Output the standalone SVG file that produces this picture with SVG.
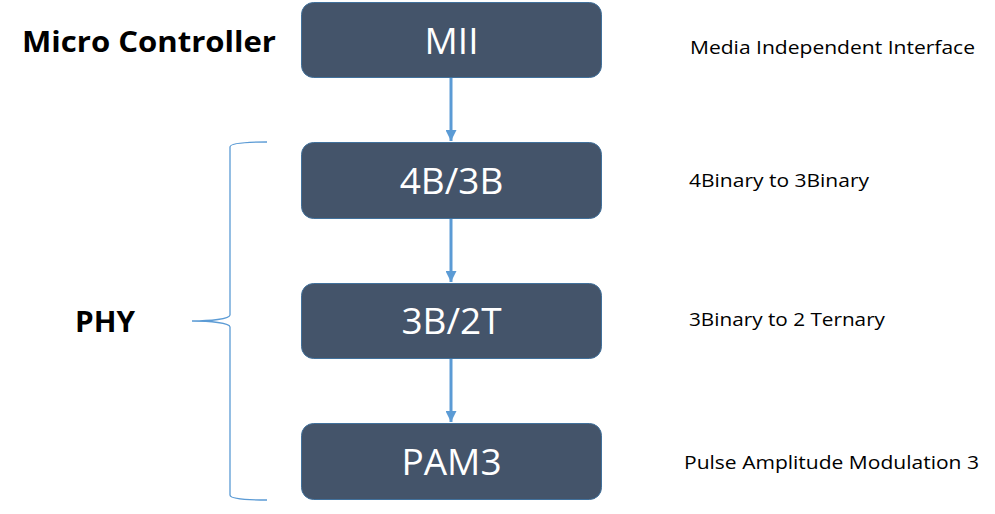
<svg xmlns="http://www.w3.org/2000/svg" width="995" height="514" viewBox="0 0 995 514">
<style>
.box{fill:#44546a;stroke:#41719c;stroke-width:1}
.btxt{font-family:"Open Sans","Noto Sans",sans-serif;font-size:37px;fill:#ffffff;text-anchor:middle}
.lbl{font-family:"Open Sans","Noto Sans",sans-serif;font-size:18px;fill:#000000}
.head{font-family:"Open Sans","Noto Sans",sans-serif;font-size:29px;font-weight:bold;fill:#000000}
.conn{stroke:#5b9bd5;stroke-width:3;fill:none}
.brace{stroke:#5b9bd5;stroke-width:1.3;fill:none}
</style>
<defs>
<marker id="arr" markerUnits="userSpaceOnUse" markerWidth="12" markerHeight="11" refX="11" refY="5.5" orient="auto">
<path d="M0,0 L11,5.5 L0,11 z" fill="#5b9bd5"/>
</marker>
</defs>
<rect width="995" height="514" fill="#ffffff"/>
<g id="micro-controller-label"><text class="head" x="22" y="52" textLength="254" lengthAdjust="spacingAndGlyphs">Micro Controller</text></g>
<g id="phy-label"><text class="head" x="75" y="332" textLength="60" lengthAdjust="spacingAndGlyphs">PHY</text></g>
<g id="node-mii"><rect class="box" x="301.5" y="2.5" width="300" height="75" rx="12"/><text class="btxt" x="451.5" y="54">MII</text></g>
<g id="node-4b3b"><rect class="box" x="301.5" y="142.5" width="300" height="76" rx="12"/><text class="btxt" x="451.5" y="194">4B/3B</text></g>
<g id="node-3b2t"><rect class="box" x="301.5" y="283.5" width="300" height="75" rx="12"/><text class="btxt" x="451.5" y="334">3B/2T</text></g>
<g id="node-pam3"><rect class="box" x="301.5" y="423.5" width="300" height="76" rx="12"/><text class="btxt" x="451.5" y="475">PAM3</text></g>
<g id="desc-mii"><text class="lbl" x="690" y="54" textLength="285" lengthAdjust="spacingAndGlyphs">Media Independent Interface</text></g>
<g id="desc-4b3b"><text class="lbl" x="689" y="187" textLength="180" lengthAdjust="spacingAndGlyphs">4Binary to 3Binary</text></g>
<g id="desc-3b2t"><text class="lbl" x="689" y="326" textLength="196" lengthAdjust="spacingAndGlyphs">3Binary to 2 Ternary</text></g>
<g id="desc-pam3"><text class="lbl" x="684" y="469" textLength="295" lengthAdjust="spacingAndGlyphs">Pulse Amplitude Modulation 3</text></g>
<g id="brace-phy"><path class="brace" d="M267,142 C245,142 230,143 230,147 L230,315 C230,319 210,321 192,321 C210,321 230,323 230,327 L230,495 C230,499 245,500 267,500"/></g>
<g id="connectors">
<line class="conn" x1="451" y1="78" x2="451" y2="141" marker-end="url(#arr)"/>
<line class="conn" x1="451" y1="219" x2="451" y2="282" marker-end="url(#arr)"/>
<line class="conn" x1="451" y1="359" x2="451" y2="422" marker-end="url(#arr)"/>
</g>
</svg>
